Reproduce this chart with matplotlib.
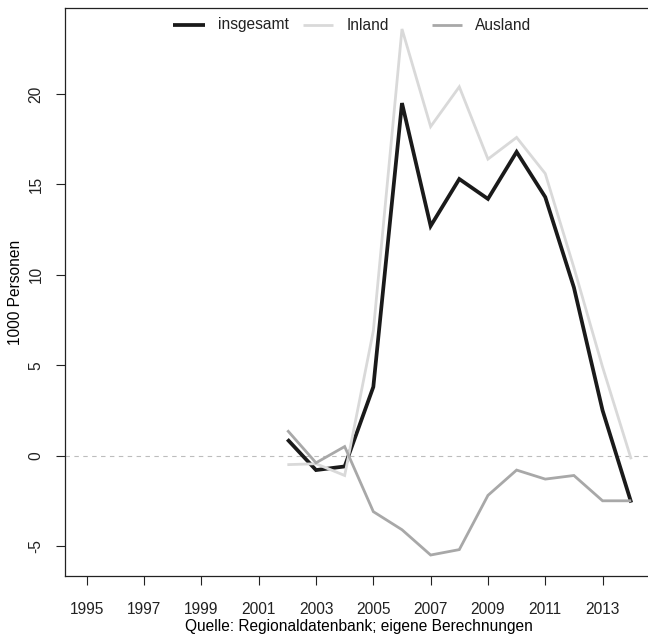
import matplotlib.pyplot as plt
from matplotlib.lines import Line2D

plt.rcParams['font.family'] = ['Liberation Sans', 'DejaVu Sans']

# Wanderungssaldo in 1000 Personen
jahre = list(range(2002, 2015))
insgesamt = [0.9, -0.8, -0.6, 3.8, 19.5, 12.7, 15.3, 14.2, 16.8, 14.3, 9.3, 2.5, -2.6]
inland = [-0.5, -0.45, -1.1, 6.9, 23.6, 18.2, 20.4, 16.4, 17.6, 15.6, 10.4, 4.9, -0.2]
ausland = [1.4, -0.4, 0.5, -3.1, -4.1, -5.5, -5.2, -2.2, -0.8, -1.3, -1.1, -2.5, -2.5]

x_ticks = list(range(1995, 2014, 2))
y_ticks = [-5, 0, 5, 10, 15, 20]

serien = [
    ('insgesamt', insgesamt, '#1a1a1a', 2.7),
    ('Inland', inland, '#d9d9d9', 2.0),
    ('Ausland', ausland, '#a8a8a8', 2.0),
]

FS = 11.2
W, H = 648, 635
fig = plt.figure(figsize=(W / 100, H / 100), dpi=100)
ax = fig.add_axes([65 / W, (H - 576) / H, (653 - 65) / W, (576 - 8) / H])

ax.axhline(0, color='#bdbdbd', lw=0.8, ls=(0, (4, 4)), zorder=1)
for name, werte, farbe, lw in serien:
    ax.plot(jahre, werte, color=farbe, lw=lw, solid_joinstyle='miter',
            solid_capstyle='butt', zorder=2)

ax.set_xlim(1994.24, 2014.76)
ax.set_ylim(-6.66, 24.76)
ax.set_xticks(x_ticks)
ax.set_yticks(y_ticks)
ax.set_yticklabels([str(v) for v in y_ticks], rotation=90, va='center')
ax.tick_params(axis='both', direction='out', length=6.5, width=0.8,
               labelsize=FS, colors='#222222')
ax.tick_params(axis='y', pad=9)
ax.tick_params(axis='x', pad=12)
for sp in ax.spines.values():
    sp.set_linewidth(0.9)
    sp.set_color('#222222')

ax.set_ylabel('1000 Personen', fontsize=FS, labelpad=4)
ax.set_xlabel('Quelle: Regionaldatenbank; eigene Berechnungen', fontsize=FS,
              labelpad=2)

# Legende waagerecht ohne Rahmen
leg_y = (H - 25) / H
handles = [(173, 205, 218), (303, 333, 347), (432, 462, 475)]
for (name, _, farbe, lw), (x0, x1, xt) in zip(serien, handles):
    fig.add_artist(Line2D([x0 / W, x1 / W], [leg_y, leg_y], color=farbe,
                          lw=lw, solid_capstyle='butt'))
    fig.text(xt / W, leg_y, name, fontsize=FS, va='center', ha='left',
             color='#222222')

fig.savefig('out.png', dpi=100)
